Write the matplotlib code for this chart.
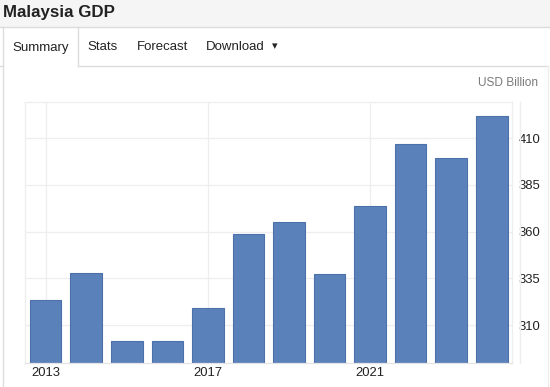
import matplotlib.pyplot as plt
from matplotlib.patches import Rectangle
from matplotlib.lines import Line2D

plt.rcParams['font.family'] = ['Liberation Sans', 'DejaVu Sans']

years = [2013, 2014, 2015, 2016, 2017, 2018, 2019, 2020, 2021, 2022, 2023, 2024]
gdp = [323.3, 338.1, 301.4, 301.3, 319.1, 358.8, 365.2, 337.3, 373.8, 407.1, 399.7, 422.0]
xtick_years = [2013, 2017, 2021]
yticks = [310, 335, 360, 385, 410]
tabs = ['Summary', 'Stats', 'Forecast', 'Download']

W, H = 550, 387
fig = plt.figure(figsize=(W / 100, H / 100), dpi=100)
fig.patch.set_facecolor('white')


def px(x, y):
    # pixel coords (top-left origin) -> figure fraction
    return x / W, 1 - y / H


def hline(x0, x1, y, color='#dddddd', lw=1):
    a, b = px(x0, y)
    c, _ = px(x1, y)
    fig.add_artist(Line2D([a, c], [b, b], color=color, lw=lw, transform=fig.transFigure))


def vline(x, y0, y1, color='#dddddd', lw=1):
    a, b = px(x, y0)
    _, d = px(x, y1)
    fig.add_artist(Line2D([a, a], [b, d], color=color, lw=lw, transform=fig.transFigure))


# header band
fig.add_artist(Rectangle(px(0, 27), 1, 27 / H, transform=fig.transFigure,
                         facecolor='#f5f5f5', edgecolor='none', zorder=0))
hline(0, W, 27, color='#dcdcdc')
fig.text(*px(3, 12.5), 'Malaysia GDP', fontsize=12.2, fontweight='bold',
         color='#222222', va='center', ha='left')

# tab row
hline(0, 3, 66)
hline(78, 548, 66)
vline(3, 27, H)
vline(78, 27, 66)
vline(548, 66, H, color='#eeeeee')
tab_x = [12.5, 87.5, 136.5, 206]
for t, x in zip(tabs, tab_x):
    fig.text(*px(x, 47.5), t, fontsize=9.5, color='#222222', va='center', ha='left')
fig.text(*px(275, 46), '\u25BE', fontsize=8, color='#222222', va='center', ha='center',
         family=['DejaVu Sans'])

fig.text(*px(538, 83.5), 'USD Billion', fontsize=8.6, color='#7a7a7a', va='center', ha='right')

# plot area
left, right, top, bottom = 25, 512, 101.7, 363.3
ax = fig.add_axes([left / W, 1 - bottom / H, (right - left) / W, (bottom - top) / H])
xpos = list(range(len(years)))
ax.bar(xpos, gdp, width=0.78, color='#5b81ba', edgecolor='#4b70aa', linewidth=0.8, zorder=2)
ax.set_xlim(-0.51, len(years) - 0.5)
ax.set_ylim(289.5, 429.6)

ax.set_xticks([years.index(y) for y in xtick_years])
ax.set_xticklabels([str(y) for y in xtick_years])
ax.set_yticks(yticks)
ax.yaxis.tick_right()
ax.tick_params(axis='both', length=0, labelsize=9.4, colors='#222222')
ax.tick_params(axis='y', pad=5)
ax.tick_params(axis='x', pad=3)
ax.grid(True, color='#eeeeee', lw=0.9, zorder=0)
ax.set_axisbelow(True)
for s in ax.spines.values():
    s.set_color('#eeeeee')
    s.set_linewidth(0.9)
ax.spines['bottom'].set_color('#e4e4e4')
vline(520, top, bottom, color='#eeeeee')

fig.savefig('out.png', dpi=100)
